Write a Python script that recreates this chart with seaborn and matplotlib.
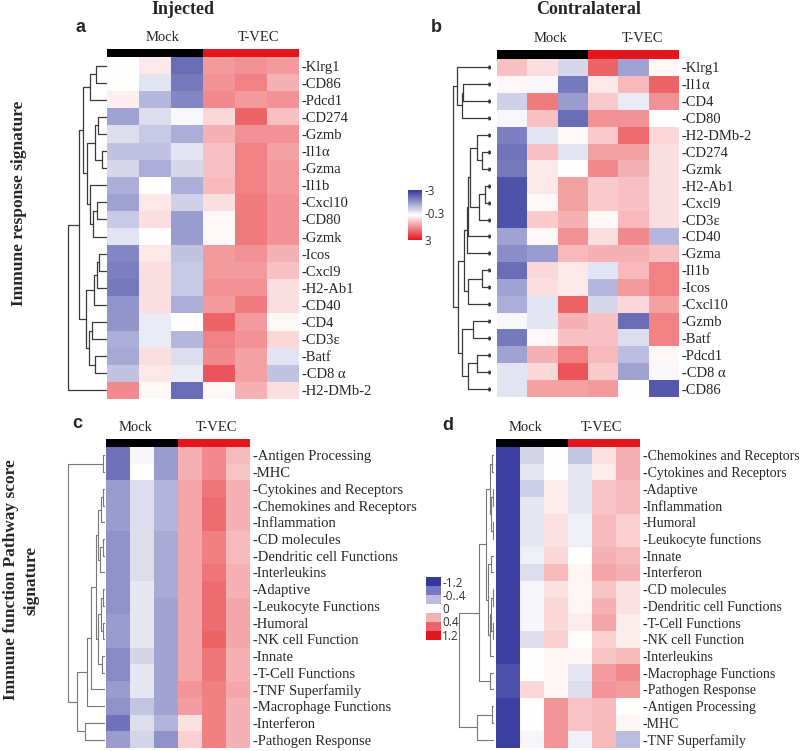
import numpy as np
import pandas as pd
import matplotlib
matplotlib.use('Agg')
import matplotlib.pyplot as plt
from matplotlib.colors import LinearSegmentedColormap, ListedColormap
import seaborn as sns

sns.set_style('white')
plt.rcParams['font.family'] = ['Liberation Serif', 'DejaVu Serif']

samples = ['Mock 1', 'Mock 2', 'Mock 3', 'T-VEC 1', 'T-VEC 2', 'T-VEC 3']
sample_group = [0, 0, 0, 1, 1, 1]

# panel a - injected, immune response genes
a_genes = ['Klrg1', 'CD86', 'Pdcd1', 'CD274', 'Gzmb', 'Il1α', 'Gzma', 'Il1b', 'Cxcl10', 'CD80',
           'Gzmk', 'Icos', 'Cxcl9', 'H2-Ab1', 'CD40', 'CD4', 'CD3ε', 'Batf', 'CD8 α', 'H2-DMb-2']
a_values = [
    [0.0, 0.3, -2.2, 1.3, 1.4, 1.3],
    [0.0, -0.4, -2.0, 1.4, 1.6, 1.0],
    [0.2, -1.1, -1.8, 1.5, 1.3, 1.4],
    [-1.4, -0.5, -0.1, 0.5, 2.0, 0.8],
    [-0.5, -0.8, -1.2, 1.0, 1.4, 1.4],
    [-0.9, -0.9, -0.4, 0.8, 1.6, 1.2],
    [-0.6, -1.2, -0.6, 0.8, 1.6, 1.3],
    [-1.2, 0.0, -1.2, 0.9, 1.6, 1.3],
    [-1.4, 0.3, -0.7, 0.4, 1.7, 1.4],
    [-0.8, 0.4, -1.5, 0.1, 1.7, 1.4],
    [-0.4, 0.0, -1.5, 0.1, 1.7, 1.4],
    [-1.8, 0.3, -0.9, 1.3, 1.4, 1.0],
    [-1.9, 0.4, -0.8, 1.3, 1.3, 0.8],
    [-2.0, 0.4, -0.8, 1.4, 1.4, 0.4],
    [-1.6, 0.4, -1.2, 1.3, 1.7, 0.4],
    [-1.6, -0.3, 0.0, 2.0, 1.3, 0.1],
    [-1.2, -0.3, -1.1, 1.6, 1.4, 0.5],
    [-1.3, 0.4, -0.5, 1.5, 1.2, -0.4],
    [-0.9, 0.3, -0.3, 2.2, 1.2, -0.9],
    [1.5, 0.1, -2.2, 0.1, 1.0, 0.4],
]
# merge tree: (height, left, right)
a_tree = (39,
          (28,
           (24,
            (17, (11, 'Klrg1', 'CD86'), 'Pdcd1'),
            (20,
             (12, (9, 'CD274', 'Gzmb'), (5, 'Il1α', 'Gzma')),
             (17, 'Il1b', (14, (10, 'Cxcl10', 'CD80'), 'Gzmk')))),
           (21,
            (13, (10, (8, 'Icos', 'Cxcl9'), 'H2-Ab1'), 'CD40'),
            (18, (15, 'CD4', 'CD3ε'), (12, 'Batf', 'CD8 α')))),
          'H2-DMb-2')

# panel b - contralateral, immune response genes
b_genes = ['Klrg1', 'Il1α', 'CD4', 'CD80', 'H2-DMb-2', 'CD274', 'Gzmk', 'H2-Ab1', 'Cxcl9', 'CD3ε',
           'CD40', 'Gzma', 'Il1b', 'Icos', 'Cxcl10', 'Gzmb', 'Batf', 'Pdcd1', 'CD8 α', 'CD86']
b_values = [
    [0.8, 0.4, -0.6, 2.0, -1.4, 0.1],
    [0.1, -0.1, -2.0, 0.3, 0.9, 2.0],
    [-0.7, 1.7, -1.5, 0.7, -0.3, 1.4],
    [-0.1, 0.8, -2.2, 1.4, 1.4, 0.0],
    [-1.9, -0.4, 0.1, 0.7, 1.9, 0.5],
    [-2.1, 0.8, -0.4, 1.2, 1.2, 0.4],
    [-2.0, 0.3, 0.0, 1.5, 1.0, 0.4],
    [-2.6, 0.3, 1.2, 0.7, 0.8, 0.4],
    [-2.6, 0.1, 1.2, 0.7, 0.8, 0.4],
    [-2.6, 0.7, 1.0, 0.1, 0.9, 0.4],
    [-1.4, 0.1, 1.4, 0.4, 1.5, -1.1],
    [-1.7, -1.5, 0.9, 1.0, 1.0, 0.8],
    [-2.2, 0.5, 0.3, -0.4, 0.9, 1.6],
    [-1.4, 0.4, 0.3, -1.1, 1.3, 1.6],
    [-1.2, -0.4, 2.0, -0.6, 0.5, 1.2],
    [-0.1, -0.4, 1.0, 0.8, -2.2, 1.6],
    [-2.0, 0.1, 0.8, 0.8, -0.5, 1.6],
    [-1.4, 1.0, 1.6, 0.9, -1.0, 0.1],
    [-0.4, 0.5, 2.2, 0.7, -1.4, -0.1],
    [-0.4, 1.2, 1.2, 1.3, 0.0, -2.5],
]
b_tree = (37,
          (33, 'Klrg1', (28, (27, 'Il1α', 'CD4'), 'CD80')),
          (32,
           (26,
            (23,
             (22,
              (20,
               (13, 'H2-DMb-2', (8, 'CD274', 'Gzmk')),
               (11, (5, 'H2-Ab1', 'Cxcl9'), 'CD3ε')),
              'CD40'),
             'Gzma'),
            (22, (8, 'Il1b', 'Icos'), 'Cxcl10')),
           (28,
            (17, 'Gzmb', 'Batf'),
            (22, (13, 'Pdcd1', 'CD8 α'), 'CD86'))))

# panel c - injected, pathway scores
c_paths = ['Antigen Processing', 'MHC', 'Cytokines and Receptors', 'Chemokines and Receptors',
           'Inflammation', 'CD molecules', 'Dendritic cell Functions', 'Interleukins', 'Adaptive',
           'Leukocyte Functions', 'Humoral', 'NK cell Function', 'Innate', 'T-Cell Functions',
           'TNF Superfamily', 'Macrophage Functions', 'Interferon', 'Pathogen Response']
c_values = [
    [-0.85, -0.05, -0.6, 0.4, 0.6, 0.35],
    [-0.85, 0.0, -0.6, 0.4, 0.6, 0.3],
    [-0.6, -0.2, -0.45, 0.45, 0.7, 0.4],
    [-0.6, -0.2, -0.45, 0.45, 0.75, 0.4],
    [-0.6, -0.2, -0.45, 0.45, 0.75, 0.4],
    [-0.65, -0.2, -0.5, 0.45, 0.65, 0.35],
    [-0.65, -0.2, -0.5, 0.45, 0.65, 0.35],
    [-0.65, -0.2, -0.5, 0.45, 0.7, 0.4],
    [-0.65, -0.15, -0.5, 0.45, 0.75, 0.4],
    [-0.65, -0.15, -0.55, 0.45, 0.75, 0.45],
    [-0.6, -0.15, -0.55, 0.45, 0.75, 0.45],
    [-0.6, -0.15, -0.55, 0.45, 0.8, 0.45],
    [-0.7, -0.25, -0.55, 0.45, 0.7, 0.4],
    [-0.7, -0.15, -0.55, 0.45, 0.7, 0.4],
    [-0.6, -0.15, -0.55, 0.55, 0.65, 0.45],
    [-0.65, -0.35, -0.55, 0.5, 0.65, 0.4],
    [-0.85, -0.2, -0.45, 0.15, 0.65, 0.4],
    [-0.6, -0.25, -0.65, 0.25, 0.65, 0.4],
]
c_tree = (37,
          (2, 'Antigen Processing', 'MHC'),
          (28,
           (18,
            (14,
             (9,
              (7, (4, (2, 'Cytokines and Receptors', 'Chemokines and Receptors'), 'Inflammation'),
               (5, (2, 'CD molecules', 'Dendritic cell Functions'), 'Interleukins')),
              (7, (4, (2, 'Adaptive', 'Leukocyte Functions'), (2, 'Humoral', 'NK cell Function')),
               (3, 'Innate', 'T-Cell Functions'))),
             'TNF Superfamily'),
            'Macrophage Functions'),
           (20, 'Interferon', 'Pathogen Response')))

# panel d - contralateral, pathway scores
d_paths = ['Chemokines and Receptors', 'Cytokines and Receptors', 'Adaptive', 'Inflammation',
           'Humoral', 'Leukocyte functions', 'Innate', 'Interferon', 'CD molecules',
           'Dendritic cell Functions', 'T-Cell Functions', 'NK cell Function', 'Interleukins',
           'Macrophage Functions', 'Pathogen Response', 'Antigen Processing', 'MHC', 'TNF Superfamily']
d_values = [
    [-1.15, -0.25, 0.0, -0.35, 0.15, 0.4],
    [-1.15, -0.15, 0.0, -0.15, 0.1, 0.4],
    [-1.15, -0.3, 0.1, -0.15, 0.3, 0.35],
    [-1.15, -0.15, 0.1, -0.15, 0.3, 0.35],
    [-1.15, -0.15, 0.15, -0.1, 0.35, 0.25],
    [-1.15, -0.15, 0.15, -0.1, 0.35, 0.25],
    [-1.15, -0.1, 0.2, 0.0, 0.4, 0.35],
    [-1.15, -0.2, 0.35, 0.05, 0.45, 0.4],
    [-1.15, -0.05, 0.15, 0.05, 0.3, 0.15],
    [-1.15, -0.05, 0.2, 0.05, 0.4, 0.15],
    [-1.15, -0.05, 0.2, 0.1, 0.45, 0.1],
    [-1.15, -0.2, 0.25, 0.0, 0.25, 0.1],
    [-1.15, 0.0, 0.05, 0.05, 0.3, 0.35],
    [-1.05, 0.0, 0.05, -0.15, 0.5, 0.6],
    [-1.05, 0.2, 0.05, -0.2, 0.55, 0.5],
    [-1.15, 0.0, 0.55, 0.3, 0.35, 0.0],
    [-1.15, 0.0, 0.55, 0.3, 0.35, 0.05],
    [-1.15, -0.05, 0.55, -0.1, 0.35, -0.4],
]
d_tree = (35,
          (15,
           (8,
            (4, (1.5, 'Chemokines and Receptors', 'Cytokines and Receptors'),
             (2.5, (1, 'Adaptive', 'Inflammation'), (1, 'Humoral', 'Leukocyte functions'))),
            (6, (3, 'Innate', 'Interferon'),
             (4, (2.5, (1, 'CD molecules', 'Dendritic cell Functions'),
                  (1, 'T-Cell Functions', 'NK cell Function')), 'Interleukins'))),
           (4, 'Macrophage Functions', 'Pathogen Response')),
          (17, (2, 'Antigen Processing', 'MHC'), 'TNF Superfamily'))

legend_d_values = [-1.2, -0.8, -0.4, np.nan, 0.4, 0.8, 1.2]

cmap = LinearSegmentedColormap.from_list('bwr2', ['#34379c', '#ffffff', '#e3161e'])
group_cmap = ListedColormap(['#000000', '#e3161e'])

W, H = 800, 751
fig = plt.figure(figsize=(W / 100, H / 100), dpi=100)


def px_axes(x0, y0, x1, y1):
    return fig.add_axes([x0 / W, 1 - y1 / H, (x1 - x0) / W, (y1 - y0) / H])


def draw_tree(ax, tree, rows, color, lw, tips=False):
    def walk(node):
        if isinstance(node, str):
            return rows.index(node) + 0.5, 0.0
        h, left, right = node
        yl, xl = walk(left)
        yr, xr = walk(right)
        ax.plot([xl, -h, -h, xr], [yl, yl, yr, yr], color=color, lw=lw)
        return (yl + yr) / 2, -h
    walk(tree)
    if tips:
        ax.plot(np.zeros(len(rows)), np.arange(len(rows)) + 0.5, ls='none', marker='>',
                ms=2.2, color=color)
    ax.set_ylim(len(rows), 0)
    ax.axis('off')


def panel(rows, values, tree, vlim, hm_box, bar_y, tree_x0, tree_x1, lw, tcolor,
          label_x=(1.5, 4.5), labelsize=10.5, tips=False):
    x0, y0, x1, y1 = hm_box
    df = pd.DataFrame(values, index=rows, columns=samples)
    ax = px_axes(x0, y0, x1, y1)
    sns.heatmap(df, ax=ax, cmap=cmap, vmin=-vlim, vmax=vlim, cbar=False,
                xticklabels=False, yticklabels=['-' + r for r in rows])
    ax.yaxis.tick_right()
    ax.tick_params(axis='y', length=0, pad=2, labelsize=labelsize)
    plt.setp(ax.get_yticklabels(), rotation=0, ha='left')
    ax.set_xlabel('')
    ax.set_ylabel('')

    bar = px_axes(x0, bar_y, x1, y0)
    sns.heatmap(np.array([sample_group]), ax=bar, cmap=group_cmap, cbar=False,
                xticklabels=False, yticklabels=False)
    bar.text(label_x[0], -0.6, 'Mock', ha='center', va='bottom', fontsize=10.5)
    bar.text(label_x[1], -0.6, 'T-VEC', ha='center', va='bottom', fontsize=10.5)

    tax = px_axes(tree_x0, y0, tree_x1, y1)
    draw_tree(tax, tree, rows, tcolor, lw, tips)
    tax.set_xlim(-(tree_x1 - tree_x0), 0)
    return ax


ax_a = panel(a_genes, a_values, a_tree, 3, (107, 57, 299, 399), 49, 62, 107, 0.9, '#3a3a3a',
             label_x=(1.75, 4.75))
ax_b = panel(b_genes, b_values, b_tree, 3, (497, 59, 679, 397), 50, 450, 490, 0.9, '#3a3a3a',
             label_x=(1.75, 4.8), tips=True)
ax_c = panel(c_paths, c_values, c_tree, 1.2, (106, 447, 250, 748), 439, 62, 105, 0.8, '#777777',
             label_x=(1.25, 4.6))
ax_d = panel(d_paths, d_values, d_tree, 1.2, (496, 447, 640, 748), 439, 452, 494, 0.8, '#777777',
             label_x=(1.25, 4.4), labelsize=10)

# colour key for a/b
cax = px_axes(408, 190, 422, 240)
cb = fig.colorbar(ax_b.collections[0], cax=cax)
cb.outline.set_visible(False)
cax.invert_yaxis()
cb.set_ticks([-3, -0.3, 3])
cb.set_ticklabels(['-3', '-0.3', '3'])
cax.tick_params(length=0, labelsize=8.5, labelcolor='#333333', pad=2)
for t in cax.get_yticklabels():
    t.set_family(['Open Sans', 'DejaVu Sans'])

# block key for c/d
lax = px_axes(426, 577, 441, 640)
sns.heatmap(np.array(legend_d_values).reshape(-1, 1), ax=lax, cmap=cmap, vmin=-1.2, vmax=1.2,
            cbar=False, xticklabels=False, yticklabels=False)
lax.yaxis.tick_right()
lax.set_yticks([0.6, 2.0, 3.4, 4.9, 6.5])
lax.set_yticklabels(['-1.2', '-0..4', '0', '0.4', '1.2'], family=['Open Sans', 'DejaVu Sans'],
                    fontsize=8.5, color='#333333', rotation=0)
lax.tick_params(length=0, pad=1)

# titles and panel letters
fig.text(183 / W, 1 - 9 / H, 'Injected', ha='center', va='center', fontsize=13, fontweight='bold')
fig.text(589 / W, 1 - 9 / H, 'Contralateral', ha='center', va='center', fontsize=13, fontweight='bold')
for letter, x, y in [('a', 81, 27), ('b', 436, 27), ('c', 77, 423), ('d', 448, 425)]:
    fig.text(x / W, 1 - y / H, letter, ha='center', va='center', fontsize=13, fontweight='bold',
             family=['Liberation Sans', 'DejaVu Sans'])
fig.text(19 / W, 1 - 203 / H, 'Immune response signature', rotation=90, ha='center', va='center',
         fontsize=12.5, fontweight='bold')
fig.text(21 / W, 1 - 580 / H, 'Immune function Pathway score\nsignature', rotation=90, ha='center',
         va='center', fontsize=12.5, fontweight='bold', linespacing=1.35)

fig.savefig('out.png', dpi=100)
